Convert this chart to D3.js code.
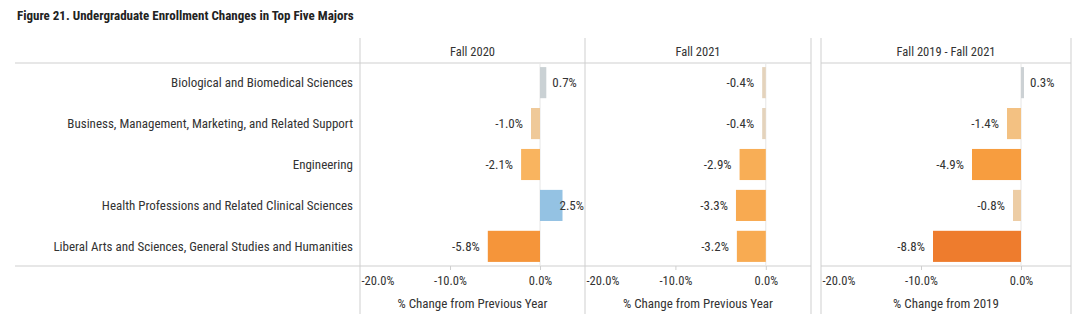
<!DOCTYPE html>
<html><head><meta charset="utf-8">
<script src="https://cdn.jsdelivr.net/npm/d3@7"></script>
<style>
body{margin:0;background:#fff;}
text{font-family:"Roboto Condensed","Liberation Sans Narrow","Arial Narrow",Roboto,sans-serif;fill:#333;}
</style></head>
<body><svg id="c" width="1080" height="336"></svg>
<script>
const categories = [
  "Biological and Biomedical Sciences",
  "Business, Management, Marketing, and Related Support",
  "Engineering",
  "Health Professions and Related Clinical Sciences",
  "Liberal Arts and Sciences, General Studies and Humanities"
];
const fall2020 = [0.7, -1.0, -2.1, 2.5, -5.8];
const fall2021 = [-0.4, -0.4, -2.9, -3.3, -3.2];
const fall2019to2021 = [0.3, -1.4, -4.9, -0.8, -8.8];
const panelTitles = ["Fall 2020", "Fall 2021", "Fall 2019 - Fall 2021"];
const axisTitles = ["% Change from Previous Year", "% Change from Previous Year", "% Change from 2019"];
const tickValues = [-20, -10, 0];
const title = "Figure 21. Undergraduate Enrollment Changes in Top Five Majors";

(function () {
const svg = d3.select("#c");
const series = [fall2020, fall2021, fall2019to2021];
const panels = [[360, 585], [585, 811], [821, 1071]];
const plotTop = 63, plotBottom = 266;
const lineCol = "#cfcfcf";
const fmt = v => (v < 0 ? "-" : "") + Math.abs(v).toFixed(1) + "%";

const color = d3.scaleLinear()
  .domain([-9, -5, -2, -0.5, 0, 1, 2.5])
  .range(["#ee7a2c", "#f79c3e", "#f9b560", "#ead3b6", "#cdd2d4", "#c9d0d4", "#94c2e3"]);

const y = d3.scaleBand().domain(categories).range([plotTop, plotBottom]).paddingInner(0.24).paddingOuter(0.1);

svg.append("text").attr("x", 17).attr("y", 20).attr("font-size", 13).attr("font-weight", "bold")
  .style("fill", "#222").text(title);

[[15, 811], [821, 1071]].forEach(([a, b]) => {
  [plotTop, plotBottom].forEach(yy => svg.append("line").attr("x1", a).attr("x2", b).attr("y1", yy).attr("y2", yy)
    .attr("stroke", lineCol).attr("stroke-width", 1));
});
[360, 585, 811, 821, 1071].forEach(xx => svg.append("line").attr("x1", xx).attr("x2", xx)
  .attr("y1", 38).attr("y2", 314).attr("stroke", lineCol).attr("stroke-width", 1));

svg.selectAll(".cat").data(categories).join("text")
  .attr("x", 353).attr("y", d => y(d) + y.bandwidth() / 2).attr("dy", "0.35em")
  .attr("text-anchor", "end").attr("font-size", 13).text(d => d);

panels.forEach(([x0, x1], i) => {
  const x = d3.scaleLinear().domain([-20, 5]).range([x0, x1]);
  const g = svg.append("g");
  const cx = (x0 + x1) / 2;
  g.append("text").attr("x", cx).attr("y", 56).attr("text-anchor", "middle").attr("font-size", 12.5).text(panelTitles[i]);
  g.append("line").attr("x1", x(0)).attr("x2", x(0)).attr("y1", plotTop).attr("y2", plotBottom)
    .attr("stroke", "#e6e6e6");
  const data = categories.map((c, j) => ({c, v: series[i][j]}));
  g.selectAll("rect").data(data).join("rect")
    .attr("x", d => x(Math.min(0, d.v))).attr("width", d => Math.abs(x(d.v) - x(0)))
    .attr("y", d => y(d.c)).attr("height", y.bandwidth())
    .attr("fill", d => color(d.v));
  g.selectAll(".val").data(data).join("text")
    .attr("y", d => y(d.c) + y.bandwidth() / 2).attr("dy", "0.35em").attr("font-size", 13)
    .attr("text-anchor", d => d.v < 0 ? "end" : "start")
    .text(d => fmt(d.v))
    .each(function (d) {
      const t = d3.select(this);
      if (d.v < 0) t.attr("x", x(d.v) - 8);
      else {
        let xx = x(d.v) + 6;
        const w = this.getComputedTextLength();
        if (xx + w > x1 - 1) xx = x1 - 1 - w;
        t.attr("x", xx);
      }
    });
  const ax = g.append("g").attr("transform", `translate(0,${plotBottom})`)
    .call(d3.axisBottom(x).tickValues(tickValues).tickSize(4).tickFormat(fmt));
  ax.select(".domain").remove();
  ax.selectAll(".tick line").attr("stroke", lineCol);
  ax.selectAll(".tick text").attr("font-size", 12.5).style("fill", "#333").attr("y", 10)
    .attr("text-anchor", d => d === -20 ? "start" : "middle").attr("dx", d => d === -20 ? 1 : 0);
  ax.attr("font-family", null);
  ax.selectAll(".tick").filter(d => d === -20).select("line").remove();
  g.append("text").attr("x", cx).attr("y", 308).attr("text-anchor", "middle").attr("font-size", 13).text(axisTitles[i]);
});
})();
</script></body></html>
